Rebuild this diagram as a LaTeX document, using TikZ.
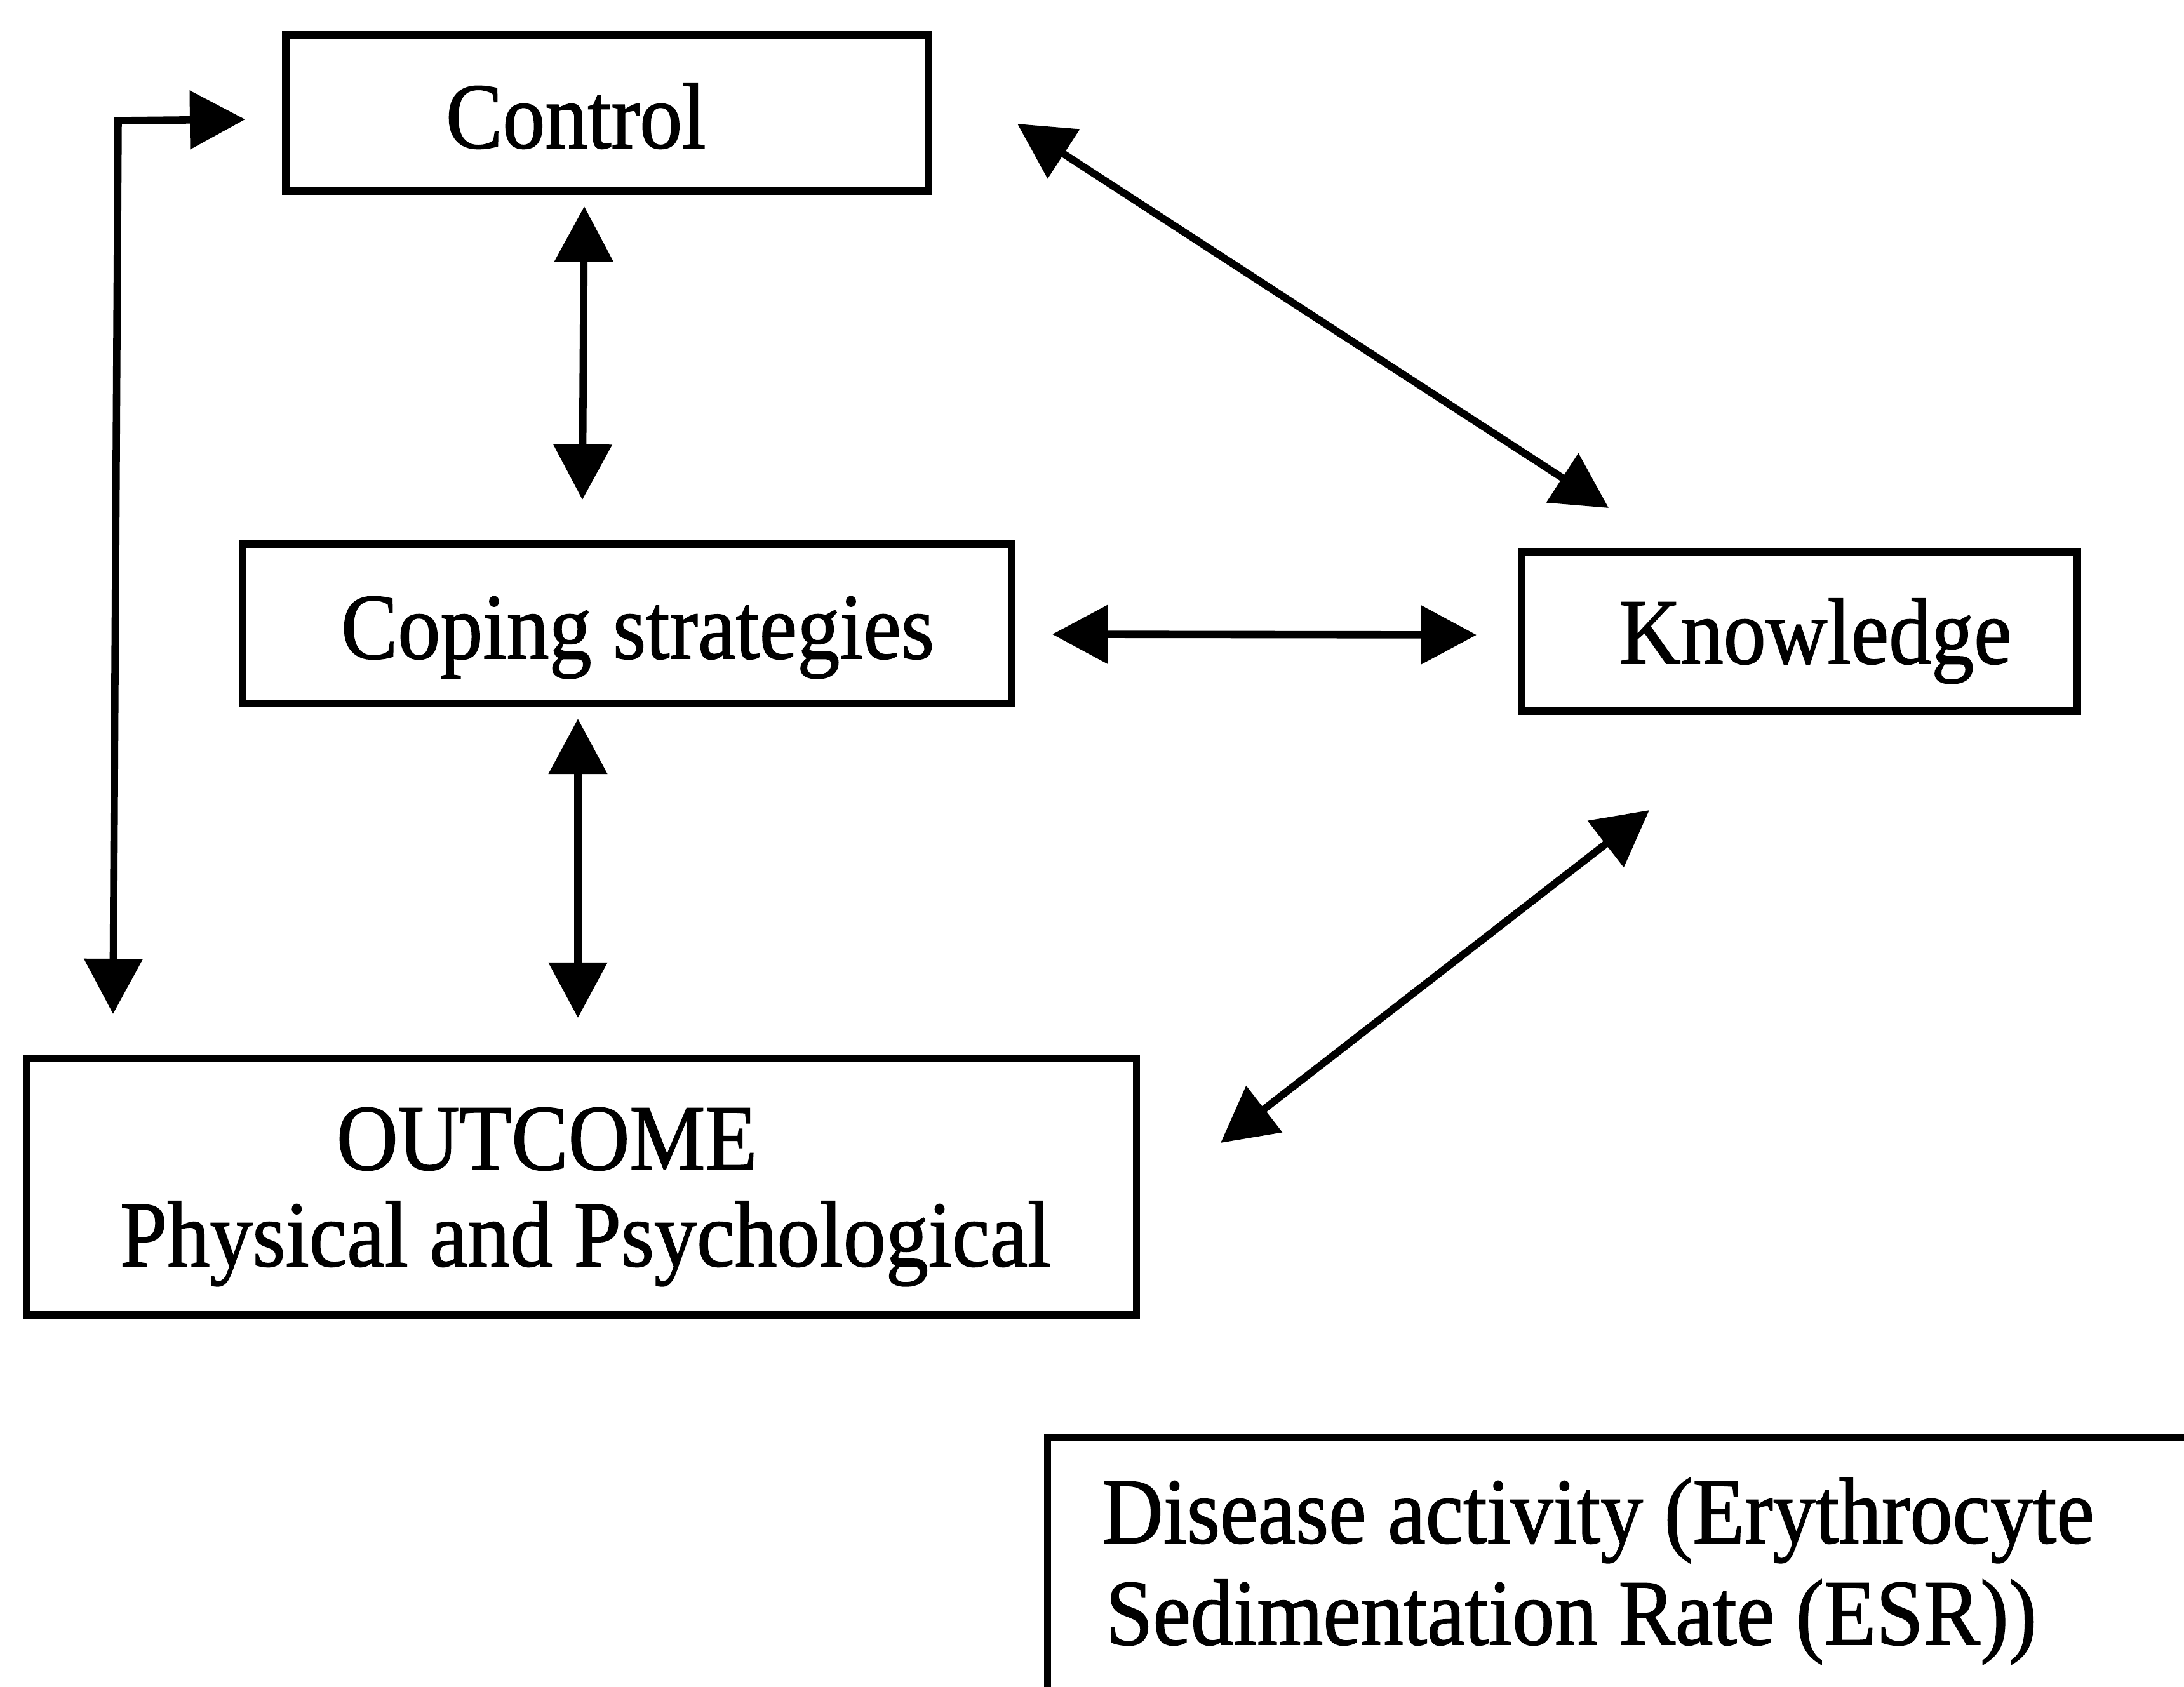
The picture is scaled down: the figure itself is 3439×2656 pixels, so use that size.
\documentclass[tikz,border=0pt]{standalone}
\usepackage{fontspec}
\setmainfont[FakeBold=1.2]{Liberation Serif}
\usepackage{graphicx}
\usetikzlibrary{arrows.meta}
\newcommand{\tallt}[1]{\scalebox{1}[1.1]{#1}}
\begin{document}
\begin{tikzpicture}[x=0.01cm, y=-0.01cm,
  box/.style={draw, rectangle, line width=3.3pt, inner sep=0pt, outer sep=0pt},
  lbl/.style={anchor=base west, inner sep=0pt, outer sep=0pt, font=\fontsize{38.1}{45}\selectfont},
  link/.style={line width=3.3pt, line join=miter,
    {Triangle[length=0.87cm,width=0.9cm]}-{Triangle[length=0.87cm,width=0.9cm]}}]
\useasboundingbox (0,0) rectangle (3439,2656);
\fill[white] (0,0) rectangle (3439,2656);
\clip (0,0) rectangle (3439,2656);

% boxes
\node[box, minimum width=10.12cm, minimum height=2.46cm] (control) at (956,178) {};
\node[box, minimum width=12.10cm, minimum height=2.51cm] (coping) at (987,982.5) {};
\node[box, minimum width=8.75cm, minimum height=2.51cm] (knowledge) at (2833.5,994.5) {};
\node[box, minimum width=17.47cm, minimum height=4.04cm] (outcome) at (915.5,1869) {};
\node[box, minimum width=19.5cm, minimum height=5.36cm] (disease) at (2625,2532) {};

% texts
\node[lbl] (tcontrol) at (702,233) {\tallt{Control}};
\node[lbl] (tcoping) at (537,1037) {\tallt{Coping strategies}};
\node[lbl] (tknow) at (2550,1045) {\tallt{Knowledge}};
\node[lbl] (tout1) at (530,1842) {\tallt{OUTCOME}};
\node[lbl] (tout2) at (189,1994) {\tallt{Physical and Psychological}};
\node[lbl] (tdis1) at (1735,2430) {\tallt{Disease activity (Erythrocyte}};
\node[lbl] (tdis2) at (1741,2590) {\tallt{Sedimentation Rate (ESR))}};

% connector end points
\coordinate (ccA) at (920,325);
\coordinate (ccB) at (917,787);
\coordinate (coA) at (910,1132);
\coordinate (coB) at (910,1603);
\coordinate (ckA) at (1602,195);
\coordinate (ckB) at (2533,800);
\coordinate (kcA) at (1657,999);
\coordinate (kcB) at (2325,1000);
\coordinate (koA) at (2597,1276);
\coordinate (koB) at (1922,1800);
\coordinate (lpT) at (386,188);
\coordinate (lpC) at (186,190);
\coordinate (lpB) at (178,1597);

% connectors
\draw[link] (ccA) -- (ccB);
\draw[link] (coA) -- (coB);
\draw[link] (ckA) -- (ckB);
\draw[link] (kcA) -- (kcB);
\draw[link] (koA) -- (koB);
\draw[link] (lpB) -- (lpC) -- (lpT);
\end{tikzpicture}
\end{document}
